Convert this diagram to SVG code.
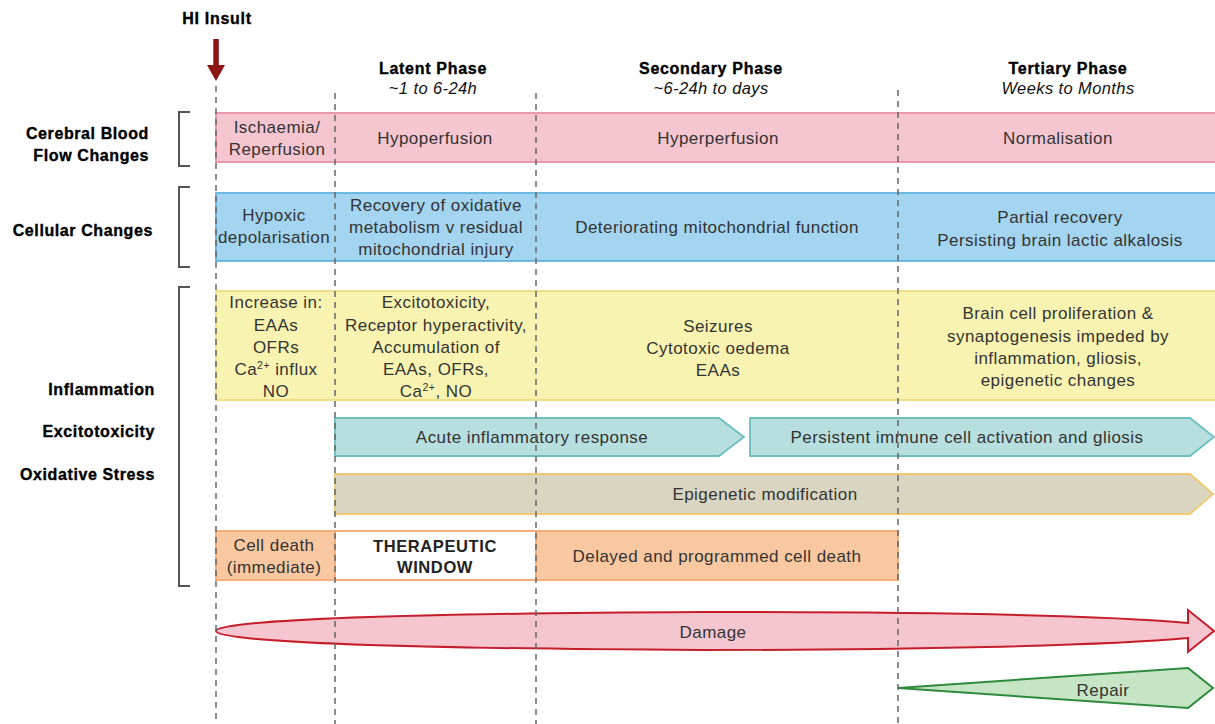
<svg xmlns="http://www.w3.org/2000/svg" width="1215" height="724" viewBox="0 0 1215 724">
<style>
text{font-family:"Liberation Sans",Arial,sans-serif;}
.t{font-size:17px;fill:#333;text-anchor:middle;dominant-baseline:central;letter-spacing:0.45px;}
.h{font-size:16px;font-weight:bold;fill:#000;stroke:#000;stroke-width:0.35;text-anchor:middle;dominant-baseline:central;letter-spacing:0.7px;}
.hi{font-size:16.5px;font-style:italic;fill:#111;text-anchor:middle;dominant-baseline:central;letter-spacing:0.4px;}
.l{font-size:16px;font-weight:bold;fill:#000;stroke:#000;stroke-width:0.35;text-anchor:end;dominant-baseline:central;letter-spacing:0.6px;}
.tw{font-size:16.5px;font-weight:bold;fill:#222;text-anchor:middle;dominant-baseline:central;letter-spacing:0.6px;}
.pink{fill:#f5c6d0;stroke:#e890a8;stroke-width:1.8;}
.blue{fill:#a3d4f0;stroke:#62b4e0;stroke-width:1.8;}
.yel{fill:#f8f3b0;stroke:#f0dc80;stroke-width:1.8;}
.teal{fill:#b8dfe0;stroke:#6cbfc0;stroke-width:1.8;}
.tan{fill:#dad5c0;stroke:#f0c870;stroke-width:1.8;}
.org{fill:#f9c8a0;stroke:#f5a872;stroke-width:1.8;}
.dash{stroke:#666;stroke-width:1.5;stroke-dasharray:6 5;fill:none;}
.br{stroke:#555;stroke-width:2;fill:none;}
.sup{font-size:10.5px;}
</style>

<!-- headers -->
<g id="hi-insult">
<text class="h" x="217" y="18">HI Insult</text>
</g>
<g id="phase-latent">
<text class="h" x="433" y="68">Latent Phase</text>
<text class="hi" x="433" y="88">~1 to 6-24h</text>
</g>
<g id="phase-secondary">
<text class="h" x="711" y="68">Secondary Phase</text>
<text class="hi" x="711" y="88">~6-24h to days</text>
</g>
<g id="phase-tertiary">
<text class="h" x="1068" y="68">Tertiary Phase</text>
<text class="hi" x="1068" y="88">Weeks to Months</text>
</g>

<!-- left labels -->
<g id="label-cbf">
<text class="l" x="149" y="133">Cerebral Blood</text>
<text class="l" x="149" y="155">Flow Changes</text>
<path class="br" d="M190,112 H179 V166 H190"/>
</g>
<g id="label-cellular">
<text class="l" x="153" y="230">Cellular Changes</text>
<path class="br" d="M190,187 H179 V267 H190"/>
</g>
<g id="label-inflammation">
<text class="l" x="155" y="389">Inflammation</text>
<text class="l" x="155" y="431">Excitotoxicity</text>
<text class="l" x="155" y="474">Oxidative Stress</text>
<path class="br" d="M190,287 H179 V586 H190"/>
</g>

<!-- row 1 pink -->
<g id="row-cbf">
<rect class="pink" x="216" y="113" width="1004" height="49"/>
<text class="t" x="277" y="127">Ischaemia/</text>
<text class="t" x="277" y="149">Reperfusion</text>
<text class="t" x="435" y="138">Hypoperfusion</text>
<text class="t" x="718" y="138">Hyperperfusion</text>
<text class="t" x="1058" y="138">Normalisation</text>
</g>

<!-- row 2 blue -->
<g id="row-cellular">
<rect class="blue" x="216" y="193" width="1004" height="68"/>
<text class="t" x="274" y="215">Hypoxic</text>
<text class="t" x="274" y="237">depolarisation</text>
<text class="t" x="436" y="205">Recovery of oxidative</text>
<text class="t" x="436" y="227">metabolism v residual</text>
<text class="t" x="436" y="249">mitochondrial injury</text>
<text class="t" x="717" y="227">Deteriorating mitochondrial function</text>
<text class="t" x="1060" y="217">Partial recovery</text>
<text class="t" x="1060" y="240">Persisting brain lactic alkalosis</text>
</g>

<!-- row 3 yellow -->
<g id="row-inflammation">
<rect class="yel" x="216" y="291" width="1004" height="109"/>
<text class="t" x="276" y="302">Increase in:</text>
<text class="t" x="276" y="325">EAAs</text>
<text class="t" x="276" y="347">OFRs</text>
<text class="t" x="276" y="369">Ca<tspan class="sup" baseline-shift="35%">2+</tspan> influx</text>
<text class="t" x="276" y="391">NO</text>
<text class="t" x="436" y="302">Excitotoxicity,</text>
<text class="t" x="436" y="325">Receptor hyperactivity,</text>
<text class="t" x="436" y="347">Accumulation of</text>
<text class="t" x="436" y="369">EAAs, OFRs,</text>
<text class="t" x="436" y="391">Ca<tspan class="sup" baseline-shift="35%">2+</tspan>, NO</text>
<text class="t" x="718" y="326">Seizures</text>
<text class="t" x="718" y="348">Cytotoxic oedema</text>
<text class="t" x="718" y="370">EAAs</text>
<text class="t" x="1058" y="313">Brain cell proliferation &amp;</text>
<text class="t" x="1058" y="336">synaptogenesis impeded by</text>
<text class="t" x="1058" y="358">inflammation, gliosis,</text>
<text class="t" x="1058" y="380">epigenetic changes</text>
</g>

<!-- teal arrows -->
<g id="acute-inflammatory">
<path class="teal" d="M335,418 H719 L744,437 L719,456 H335 Z"/>
<text class="t" x="532" y="437">Acute inflammatory response</text>
</g>
<g id="persistent-immune">
<path class="teal" d="M750,418 H1190 L1214,437 L1190,456 H750 Z"/>
<text class="t" x="967" y="437">Persistent immune cell activation and gliosis</text>
</g>

<!-- tan arrow -->
<g id="epigenetic">
<path class="tan" d="M335,474 H1190 L1213,494 L1190,514 H335 Z"/>
<text class="t" x="765" y="494">Epigenetic modification</text>
</g>

<!-- orange row -->
<g id="row-celldeath">
<rect class="org" x="216" y="531" width="682" height="49"/>
<text class="t" x="274" y="545">Cell death</text>
<text class="t" x="274" y="567">(immediate)</text>
<text class="t" x="717" y="556">Delayed and programmed cell death</text>
</g>
<g id="therapeutic-window">
<rect x="335" y="531" width="201" height="49" fill="#fff" stroke="#f5a872" stroke-width="1.8"/>
<text class="tw" x="435" y="546">THERAPEUTIC</text>
<text class="tw" x="435" y="567">WINDOW</text>
</g>

<!-- damage -->
<g id="damage">
<path d="M216,631 C216,623 320,614 700,612 C900,612 1100,615 1188,623 L1188,610 L1214,631 L1188,652 L1188,638 C1100,646 900,650 700,650 C320,648 216,639 216,631 Z" fill="#f5c6d0" stroke="#c41e2a" stroke-width="2"/>
<text class="t" x="713" y="632">Damage</text>
</g>

<!-- repair -->
<g id="repair">
<path d="M898,688 L1188,668 L1213,688 L1188,708 Z" fill="#c5e5c5" stroke="#2e8b3e" stroke-width="2"/>
<text class="t" x="1103" y="690">Repair</text>
</g>

<!-- connectors: timeline guides and insult arrow -->
<g id="connectors">
<line class="dash" x1="216" y1="86" x2="216" y2="724"/>
<line class="dash" x1="335" y1="93" x2="335" y2="724"/>
<line class="dash" x1="536" y1="93" x2="536" y2="724"/>
<line class="dash" x1="898" y1="90" x2="898" y2="724"/>
<path d="M213.3,39 H218.8 V65 H225 L216,81 L207,65 H213.3 Z" fill="#8b1414"/>
</g>
</svg>
